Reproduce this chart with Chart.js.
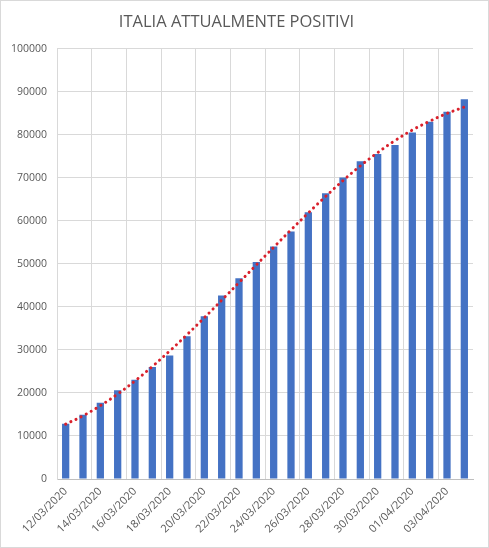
<!DOCTYPE html>
<html>
<head>
<meta charset="utf-8">
<script src="https://cdn.jsdelivr.net/npm/chart.js@4.4.1/dist/chart.umd.min.js"></script>
<style>
    html, body { margin: 0; padding: 0; background: #fff; }
    #wrap { position: relative; width: 489px; height: 548px; }
</style>
</head>
<body>
<div id="wrap"><canvas id="ItaliaChart" width="489" height="548"></canvas></div>
<script>
(function() {
    "use strict";

    var days = [
        "12/03/2020", "13/03/2020", "14/03/2020", "15/03/2020", "16/03/2020", "17/03/2020",
        "18/03/2020", "19/03/2020", "20/03/2020", "21/03/2020", "22/03/2020", "23/03/2020",
        "24/03/2020", "25/03/2020", "26/03/2020", "27/03/2020", "28/03/2020", "29/03/2020",
        "30/03/2020", "31/03/2020", "01/04/2020", "02/04/2020", "03/04/2020", "04/04/2020"
    ];

    var positivi = [
        12839, 14955, 17750, 20603, 23073, 26062,
        28710, 33190, 37860, 42681, 46638, 50418,
        54030, 57521, 62013, 66414, 70065, 73880,
        75528, 77635, 80572, 83049, 85388, 88274
    ];

    // trend line
    var tendenza = [
        12750, 14700, 17050, 19750, 22800, 26150,
        29750, 33550, 37500, 41550, 45650, 49770,
        53870, 57910, 61860, 65690, 69370, 72770,
        75870, 78670, 81120, 83170, 84970, 86470
    ];

    var yTicks = [0, 10000, 20000, 30000, 40000, 50000, 60000, 70000, 80000, 90000, 100000];

    var textColor = "#595959";
    var gridColor = "#d9d9d9";

    var frame = {
        id: "frame",
        beforeDraw: function(chart) {
            var ctx = chart.ctx;
            ctx.save();
            ctx.fillStyle = "#ffffff";
            ctx.fillRect(0, 0, chart.width, chart.height);
            ctx.restore();
        },
        afterDraw: function(chart) {
            var ctx = chart.ctx;
            ctx.save();
            ctx.strokeStyle = gridColor;
            ctx.lineWidth = 1;
            ctx.strokeRect(0.5, 0.5, chart.width - 1, chart.height - 1);
            ctx.restore();
        }
    };

    new Chart(document.getElementById("ItaliaChart"), {
        type: "bar",
        data: {
            labels: days,
            datasets: [
                {
                    type: "line",
                    label: "Tendenza",
                    data: tendenza,
                    borderColor: "#d9202b",
                    borderWidth: 3,
                    borderDash: [0.1, 5.6],
                    borderCapStyle: "round",
                    pointRadius: 0,
                    tension: 0.4,
                    fill: false,
                    order: 0
                },
                {
                    label: "Attualmente positivi",
                    data: positivi,
                    backgroundColor: "#4472c4",
                    barPercentage: 0.42,
                    categoryPercentage: 1,
                    order: 1
                }
            ]
        },
        options: {
            responsive: false,
            animation: false,
            layout: {
                padding: { left: 0, right: 16, top: 0, bottom: 0 }
            },
            plugins: {
                legend: { display: false },
                tooltip: { enabled: false },
                title: {
                    display: true,
                    text: "ITALIA ATTUALMENTE POSITIVI",
                    color: textColor,
                    font: { family: "'Open Sans'", size: 16.5, weight: "normal" },
                    padding: { top: 12, bottom: 17 }
                }
            },
            scales: {
                x: {
                    grid: {
                        drawTicks: false,
                        color: function(ctx) {
                            return ctx.index % 2 === 0 ? gridColor : "rgba(0,0,0,0)";
                        }
                    },
                    border: { color: "#bfbfbf" },
                    ticks: {
                        autoSkip: false,
                        maxRotation: 45,
                        minRotation: 45,
                        padding: 6,
                        color: textColor,
                        font: { family: "'Open Sans'", size: 11 },
                        callback: function(value, index) {
                            return index % 2 === 0 ? days[index] : "";
                        }
                    },
                    afterFit: function(scale) {
                        scale.height = 69;
                    }
                },
                y: {
                    min: 0,
                    max: 100000,
                    afterBuildTicks: function(scale) {
                        scale.ticks = yTicks.map(function(v) { return { value: v }; });
                    },
                    grid: { color: gridColor, drawTicks: false },
                    border: { color: gridColor },
                    ticks: {
                        padding: 10,
                        color: textColor,
                        font: { family: "'Open Sans'", size: 10.5 },
                        callback: function(value) { return String(value); }
                    },
                    afterFit: function(scale) {
                        scale.width = 57;
                    }
                }
            }
        },
        plugins: [frame]
    });
})();
</script>
</body>
</html>
